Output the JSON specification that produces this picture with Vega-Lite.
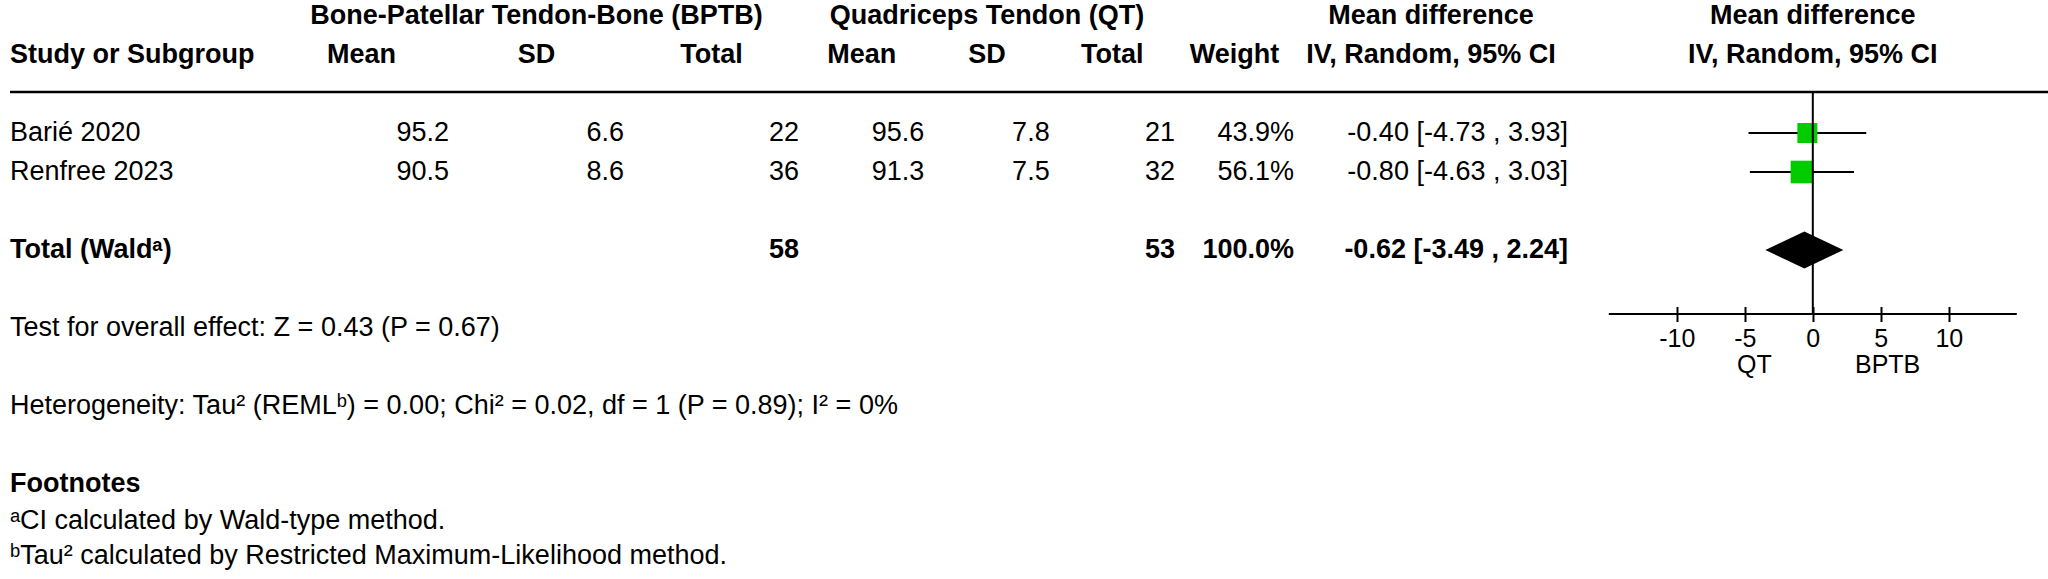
{
  "$schema": "https://vega.github.io/schema/vega-lite/v6.json",
  "background": "white",
  "padding": {"left": 8, "top": 0, "right": 0, "bottom": 0},
  "spacing": 0,
  "bounds": "flush",
  "config": {
    "view": {"stroke": null},
    "text": {"font": "Liberation Sans", "fontSize": 27, "color": "black", "baseline": "middle"},
    "rule": {"color": "black"},
    "axis": {"grid": false, "domain": false, "labelFont": "Liberation Sans", "labelFontSize": 25, "labelColor": "black", "tickColor": "black", "tickWidth": 2, "tickSize": 15}
  },
  "datasets": {
    "table": [
      {"grp": "study", "col": "Study", "type": "head", "r": 1, "v": "Study or Subgroup"},
      {"grp": "study", "col": "Study", "type": "study", "r": 3, "v": "Barié 2020"},
      {"grp": "study", "col": "Study", "type": "study", "r": 4, "v": "Renfree 2023"},
      {"grp": "study", "col": "Study", "type": "total", "r": 6, "v": "Total (Waldᵃ)"},
      {"grp": "study", "col": "Study", "type": "note", "r": 8, "v": "Test for overall effect: Z = 0.43 (P = 0.67)"},
      {"grp": "study", "col": "Study", "type": "note", "r": 10, "v": "Heterogeneity: Tau² (REMLᵇ) = 0.00; Chi² = 0.02, df = 1 (P = 0.89); I² = 0%"},
      {"grp": "study", "col": "Study", "type": "notehead", "r": 12, "v": "Footnotes"},
      {"grp": "study", "col": "Study", "type": "note", "r": 12.95, "v": "ᵃCI calculated by Wald-type method."},
      {"grp": "study", "col": "Study", "type": "note", "r": 13.85, "v": "ᵇTau² calculated by Restricted Maximum-Likelihood method."},
      {"grp": "bptb", "type": "group", "r": 0, "v": "Bone-Patellar Tendon-Bone (BPTB)"},
      {"grp": "bptb", "col": "Mean", "type": "head", "r": 1, "v": "Mean"},
      {"grp": "bptb", "col": "SD", "type": "head", "r": 1, "v": "SD"},
      {"grp": "bptb", "col": "Total", "type": "head", "r": 1, "v": "Total"},
      {"grp": "bptb", "col": "Mean", "type": "study", "r": 3, "v": "95.2"},
      {"grp": "bptb", "col": "SD", "type": "study", "r": 3, "v": "6.6"},
      {"grp": "bptb", "col": "Total", "type": "study", "r": 3, "v": "22"},
      {"grp": "bptb", "col": "Mean", "type": "study", "r": 4, "v": "90.5"},
      {"grp": "bptb", "col": "SD", "type": "study", "r": 4, "v": "8.6"},
      {"grp": "bptb", "col": "Total", "type": "study", "r": 4, "v": "36"},
      {"grp": "bptb", "col": "Total", "type": "total", "r": 6, "v": "58"},
      {"grp": "qt", "type": "group", "r": 0, "v": "Quadriceps Tendon (QT)"},
      {"grp": "qt", "col": "Mean", "type": "head", "r": 1, "v": "Mean"},
      {"grp": "qt", "col": "SD", "type": "head", "r": 1, "v": "SD"},
      {"grp": "qt", "col": "Total", "type": "head", "r": 1, "v": "Total"},
      {"grp": "qt", "col": "Mean", "type": "study", "r": 3, "v": "95.6"},
      {"grp": "qt", "col": "SD", "type": "study", "r": 3, "v": "7.8"},
      {"grp": "qt", "col": "Total", "type": "study", "r": 3, "v": "21"},
      {"grp": "qt", "col": "Mean", "type": "study", "r": 4, "v": "91.3"},
      {"grp": "qt", "col": "SD", "type": "study", "r": 4, "v": "7.5"},
      {"grp": "qt", "col": "Total", "type": "study", "r": 4, "v": "32"},
      {"grp": "qt", "col": "Total", "type": "total", "r": 6, "v": "53"},
      {"grp": "weight", "col": "Weight", "type": "head", "r": 1, "v": "Weight"},
      {"grp": "weight", "col": "Weight", "type": "study", "r": 3, "v": "43.9%"},
      {"grp": "weight", "col": "Weight", "type": "study", "r": 4, "v": "56.1%"},
      {"grp": "weight", "col": "Weight", "type": "total", "r": 6, "v": "100.0%"},
      {"grp": "ci", "type": "group", "r": 0, "v": "Mean difference"},
      {"grp": "ci", "col": "CI", "type": "head", "r": 1, "v": "IV, Random, 95% CI"},
      {"grp": "ci", "col": "CI", "type": "study", "r": 3, "v": "-0.40 [-4.73 , 3.93]"},
      {"grp": "ci", "col": "CI", "type": "study", "r": 4, "v": "-0.80 [-4.63 , 3.03]"},
      {"grp": "ci", "col": "CI", "type": "total", "r": 6, "v": "-0.62 [-3.49 , 2.24]"},
      {"grp": "plot", "type": "group", "r": 0, "v": "Mean difference"},
      {"grp": "plot", "type": "head", "r": 1, "v": "IV, Random, 95% CI"}
    ],
    "forest": [
      {"type": "study", "r": 3, "md": -0.40, "lo": -4.73, "hi": 3.93, "w": 43.9},
      {"type": "study", "r": 4, "md": -0.80, "lo": -4.63, "hi": 3.03, "w": 56.1},
      {"type": "total", "r": 6, "md": -0.62, "lo": -3.49, "hi": 2.24, "w": 100.0}
    ]
  },
  "hconcat": [
    {
      "width": 264, "height": 579,
      "layer": [
        {"data": {"values": [{}]}, "mark": {"type": "rule", "strokeWidth": 2.5},
         "encoding": {"y": {"datum": 1.95, "type": "quantitative", "scale": {"domain": [-0.410256, 14.4359], "reverse": true, "nice": false, "zero": false}, "axis": null}}},
        {"data": {"name": "table"}, "transform": [{"filter": "datum.grp === 'study' && (datum.type === 'study' || datum.type === 'note')"}],
         "mark": {"type": "text", "align": "left"},
         "encoding": {
           "x": {"field": "col", "type": "nominal", "bandPosition": 0, "scale": {"type": "band", "domain": ["Study"], "paddingInner": 0, "paddingOuter": 0}, "axis": null},
           "y": {"field": "r", "type": "quantitative", "axis": null},
           "text": {"field": "v", "type": "nominal"}}},
        {"data": {"name": "table"}, "transform": [{"filter": "datum.grp === 'study' && (datum.type === 'head' || datum.type === 'total' || datum.type === 'notehead')"}],
         "mark": {"type": "text", "align": "left", "fontWeight": "bold"},
         "encoding": {
           "x": {"field": "col", "type": "nominal", "bandPosition": 0, "axis": null},
           "y": {"field": "r", "type": "quantitative", "axis": null},
           "text": {"field": "v", "type": "nominal"}}}
      ]
    },
    {
      "width": 525, "height": 579,
      "layer": [
        {"data": {"values": [{}]}, "mark": {"type": "rule", "strokeWidth": 2.5},
         "encoding": {"y": {"datum": 1.95, "type": "quantitative", "scale": {"domain": [-0.410256, 14.4359], "reverse": true, "nice": false, "zero": false}, "axis": null}}},
        {"data": {"name": "table"}, "transform": [{"filter": "datum.grp === 'bptb' && datum.type === 'group'"}],
         "mark": {"type": "text", "align": "center", "fontWeight": "bold"},
         "encoding": {"y": {"field": "r", "type": "quantitative", "axis": null}, "text": {"field": "v", "type": "nominal"}}},
        {"data": {"name": "table"}, "transform": [{"filter": "datum.grp === 'bptb' && datum.type === 'head'"}],
         "mark": {"type": "text", "align": "center", "fontWeight": "bold"},
         "encoding": {
           "x": {"field": "col", "type": "nominal", "bandPosition": 0.5, "scale": {"type": "band", "domain": ["Mean", "SD", "Total"], "paddingInner": 0, "paddingOuter": 0}, "axis": null},
           "y": {"field": "r", "type": "quantitative", "axis": null},
           "text": {"field": "v", "type": "nominal"}}},
        {"data": {"name": "table"}, "transform": [{"filter": "datum.grp === 'bptb' && datum.type === 'study'"}],
         "mark": {"type": "text", "align": "right"},
         "encoding": {
           "x": {"field": "col", "type": "nominal", "bandPosition": 1, "axis": null},
           "y": {"field": "r", "type": "quantitative", "axis": null},
           "text": {"field": "v", "type": "nominal"}}},
        {"data": {"name": "table"}, "transform": [{"filter": "datum.grp === 'bptb' && datum.type === 'total'"}],
         "mark": {"type": "text", "align": "right", "fontWeight": "bold"},
         "encoding": {
           "x": {"field": "col", "type": "nominal", "bandPosition": 1, "axis": null},
           "y": {"field": "r", "type": "quantitative", "axis": null},
           "text": {"field": "v", "type": "nominal"}}}
      ]
    },
    {
      "width": 376, "height": 579,
      "layer": [
        {"data": {"values": [{}]}, "mark": {"type": "rule", "strokeWidth": 2.5},
         "encoding": {"y": {"datum": 1.95, "type": "quantitative", "scale": {"domain": [-0.410256, 14.4359], "reverse": true, "nice": false, "zero": false}, "axis": null}}},
        {"data": {"name": "table"}, "transform": [{"filter": "datum.grp === 'qt' && datum.type === 'group'"}],
         "mark": {"type": "text", "align": "center", "fontWeight": "bold"},
         "encoding": {"y": {"field": "r", "type": "quantitative", "axis": null}, "text": {"field": "v", "type": "nominal"}}},
        {"data": {"name": "table"}, "transform": [{"filter": "datum.grp === 'qt' && datum.type === 'head'"}],
         "mark": {"type": "text", "align": "center", "fontWeight": "bold"},
         "encoding": {
           "x": {"field": "col", "type": "nominal", "bandPosition": 0.5, "scale": {"type": "band", "domain": ["Mean", "SD", "Total"], "paddingInner": 0, "paddingOuter": 0}, "axis": null},
           "y": {"field": "r", "type": "quantitative", "axis": null},
           "text": {"field": "v", "type": "nominal"}}},
        {"data": {"name": "table"}, "transform": [{"filter": "datum.grp === 'qt' && datum.type === 'study'"}],
         "mark": {"type": "text", "align": "right"},
         "encoding": {
           "x": {"field": "col", "type": "nominal", "bandPosition": 1, "axis": null},
           "y": {"field": "r", "type": "quantitative", "axis": null},
           "text": {"field": "v", "type": "nominal"}}},
        {"data": {"name": "table"}, "transform": [{"filter": "datum.grp === 'qt' && datum.type === 'total'"}],
         "mark": {"type": "text", "align": "right", "fontWeight": "bold"},
         "encoding": {
           "x": {"field": "col", "type": "nominal", "bandPosition": 1, "axis": null},
           "y": {"field": "r", "type": "quantitative", "axis": null},
           "text": {"field": "v", "type": "nominal"}}}
      ]
    },
    {
      "width": 119, "height": 579,
      "layer": [
        {"data": {"values": [{}]}, "mark": {"type": "rule", "strokeWidth": 2.5},
         "encoding": {"y": {"datum": 1.95, "type": "quantitative", "scale": {"domain": [-0.410256, 14.4359], "reverse": true, "nice": false, "zero": false}, "axis": null}}},
        {"data": {"name": "table"}, "transform": [{"filter": "datum.grp === 'weight' && datum.type === 'head'"}],
         "mark": {"type": "text", "align": "center", "fontWeight": "bold"},
         "encoding": {
           "x": {"field": "col", "type": "nominal", "bandPosition": 0.5, "scale": {"type": "band", "domain": ["Weight"], "paddingInner": 0, "paddingOuter": 0}, "axis": null},
           "y": {"field": "r", "type": "quantitative", "axis": null},
           "text": {"field": "v", "type": "nominal"}}},
        {"data": {"name": "table"}, "transform": [{"filter": "datum.grp === 'weight' && datum.type === 'study'"}],
         "mark": {"type": "text", "align": "right"},
         "encoding": {
           "x": {"field": "col", "type": "nominal", "bandPosition": 1, "axis": null},
           "y": {"field": "r", "type": "quantitative", "axis": null},
           "text": {"field": "v", "type": "nominal"}}},
        {"data": {"name": "table"}, "transform": [{"filter": "datum.grp === 'weight' && datum.type === 'total'"}],
         "mark": {"type": "text", "align": "right", "fontWeight": "bold"},
         "encoding": {
           "x": {"field": "col", "type": "nominal", "bandPosition": 1, "axis": null},
           "y": {"field": "r", "type": "quantitative", "axis": null},
           "text": {"field": "v", "type": "nominal"}}}
      ]
    },
    {
      "width": 274, "height": 579,
      "layer": [
        {"data": {"values": [{}]}, "mark": {"type": "rule", "strokeWidth": 2.5},
         "encoding": {"y": {"datum": 1.95, "type": "quantitative", "scale": {"domain": [-0.410256, 14.4359], "reverse": true, "nice": false, "zero": false}, "axis": null}}},
        {"data": {"name": "table"}, "transform": [{"filter": "datum.grp === 'ci' && datum.type === 'group'"}],
         "mark": {"type": "text", "align": "center", "fontWeight": "bold"},
         "encoding": {"y": {"field": "r", "type": "quantitative", "axis": null}, "text": {"field": "v", "type": "nominal"}}},
        {"data": {"name": "table"}, "transform": [{"filter": "datum.grp === 'ci' && datum.type === 'head'"}],
         "mark": {"type": "text", "align": "center", "fontWeight": "bold"},
         "encoding": {
           "x": {"field": "col", "type": "nominal", "bandPosition": 0.5, "scale": {"type": "band", "domain": ["CI"], "paddingInner": 0, "paddingOuter": 0}, "axis": null},
           "y": {"field": "r", "type": "quantitative", "axis": null},
           "text": {"field": "v", "type": "nominal"}}},
        {"data": {"name": "table"}, "transform": [{"filter": "datum.grp === 'ci' && datum.type === 'study'"}],
         "mark": {"type": "text", "align": "right"},
         "encoding": {
           "x": {"field": "col", "type": "nominal", "bandPosition": 1, "axis": null},
           "y": {"field": "r", "type": "quantitative", "axis": null},
           "text": {"field": "v", "type": "nominal"}}},
        {"data": {"name": "table"}, "transform": [{"filter": "datum.grp === 'ci' && datum.type === 'total'"}],
         "mark": {"type": "text", "align": "right", "fontWeight": "bold"},
         "encoding": {
           "x": {"field": "col", "type": "nominal", "bandPosition": 1, "axis": null},
           "y": {"field": "r", "type": "quantitative", "axis": null},
           "text": {"field": "v", "type": "nominal"}}}
      ]
    },
    {
      "width": 482.8, "height": 314,
      "layer": [
        {"data": {"name": "forest"}, "transform": [{"filter": "datum.type === 'study'"}],
         "mark": {"type": "rule", "strokeWidth": 2},
         "encoding": {
           "x": {"field": "lo", "type": "quantitative", "scale": {"domain": [-18, 17.5], "nice": false, "zero": false},
                 "axis": {"values": [-10, -5, 0, 5, 10], "title": null, "offset": -7.5, "labelPadding": 5, "labelExpr": "'' + datum.value", "labelFlush": false, "labelOverlap": false}},
           "x2": {"field": "hi"},
           "y": {"field": "r", "type": "quantitative", "scale": {"domain": [-0.410256, 7.641], "reverse": true, "nice": false, "zero": false}, "axis": null}}},
        {"data": {"values": [{}]}, "mark": {"type": "rule", "strokeWidth": 2.5},
         "encoding": {"y": {"datum": 1.95, "type": "quantitative", "axis": null}}},
        {"data": {"name": "table"}, "transform": [{"filter": "datum.grp === 'plot'"}],
         "mark": {"type": "text", "align": "center", "fontWeight": "bold"},
         "encoding": {
           "x": {"datum": 0, "type": "quantitative"},
           "y": {"field": "r", "type": "quantitative", "axis": null},
           "text": {"field": "v", "type": "nominal"}}},
        {"data": {"name": "forest"}, "transform": [{"filter": "datum.type === 'study'"}],
         "mark": {"type": "point", "shape": "square", "filled": true, "color": "#00cc00", "opacity": 1, "strokeWidth": 0},
         "encoding": {
           "x": {"field": "md", "type": "quantitative"},
           "y": {"field": "r", "type": "quantitative", "axis": null},
           "size": {"field": "w", "type": "quantitative", "scale": {"domain": [0, 100], "range": [0, 911]}, "legend": null}}},
        {"data": {"name": "forest"}, "transform": [{"filter": "datum.type === 'total'"}],
         "mark": {"type": "point", "shape": "M-1,0L0,-0.475L1,0L0,0.475Z", "filled": true, "color": "black", "opacity": 1, "strokeWidth": 0, "size": 6084},
         "encoding": {
           "x": {"field": "md", "type": "quantitative"},
           "y": {"field": "r", "type": "quantitative", "axis": null}}},
        {"data": {"values": [{}]}, "mark": {"type": "rule", "strokeWidth": 2},
         "encoding": {
           "x": {"datum": 0, "type": "quantitative"},
           "y": {"datum": 1.95, "type": "quantitative", "axis": null},
           "y2": {"datum": 7.641}}},
        {"data": {"values": [{}]}, "mark": {"type": "rule", "strokeWidth": 2},
         "encoding": {
           "x": {"datum": -15, "type": "quantitative"},
           "x2": {"datum": 15},
           "y": {"datum": 7.641, "type": "quantitative", "axis": null}}},
        {"data": {"values": [{"lab": "QT"}]}, "mark": {"type": "text", "align": "center", "fontSize": 25},
         "encoding": {
           "x": {"datum": -4.3, "type": "quantitative"},
           "y": {"datum": 8.96, "type": "quantitative", "axis": null},
           "text": {"field": "lab", "type": "nominal"}}},
        {"data": {"values": [{"lab": "BPTB"}]}, "mark": {"type": "text", "align": "center", "fontSize": 25},
         "encoding": {
           "x": {"datum": 5.5, "type": "quantitative"},
           "y": {"datum": 8.96, "type": "quantitative", "axis": null},
           "text": {"field": "lab", "type": "nominal"}}}
      ]
    }
  ]
}
